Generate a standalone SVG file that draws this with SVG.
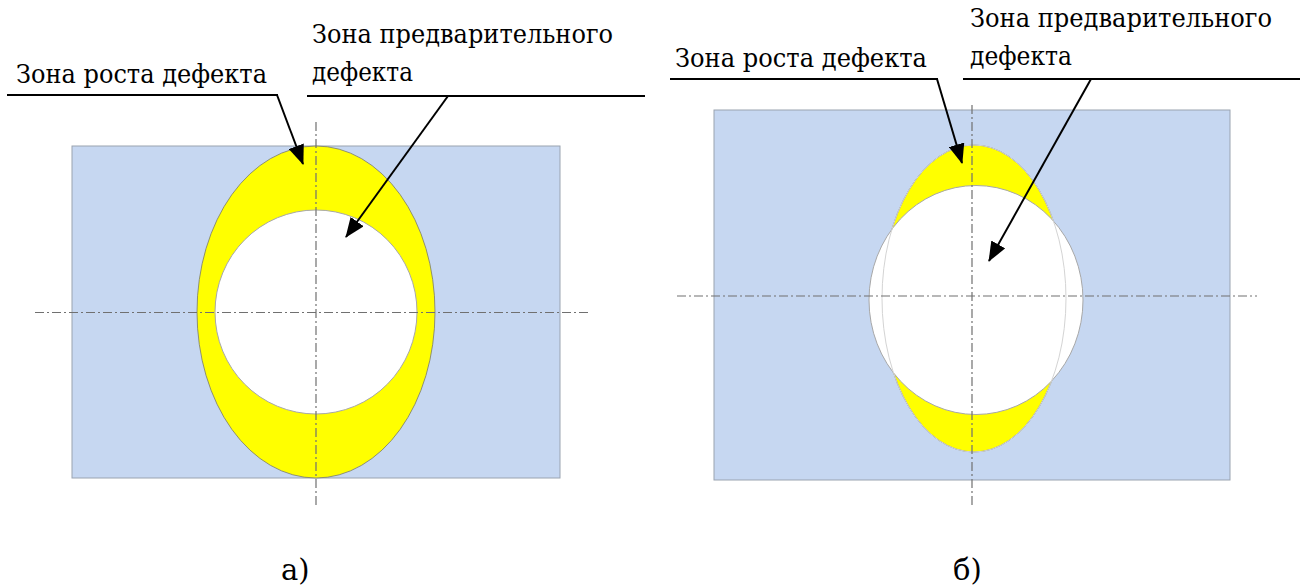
<svg xmlns="http://www.w3.org/2000/svg" width="1309" height="588" viewBox="0 0 1309 588">
<style>
.plate{fill:#c6d7f1;stroke:#9aa3b0;stroke-width:1}
.grow{fill:#ffff00;stroke:#7a7a6a;stroke-width:0.8}
.pre{fill:#ffffff;stroke:#a8a8a8;stroke-width:1}
.ghost{fill:none;stroke:#d4d4d4;stroke-width:1}
.axis{stroke:#707070;stroke-width:1.2;stroke-dasharray:9 3 2 3;fill:none}
.lead{stroke:#000;stroke-width:2;fill:none}
.arr{stroke:#000;stroke-width:2;fill:none;marker-end:url(#ah)}
text{font-family:'DejaVu Serif','Liberation Serif',serif;fill:#000}
.lbl{font-size:26px}
.cap{font-size:29px}
</style>
<defs>
<marker id="ah" viewBox="0 0 20 16" refX="19" refY="8" markerWidth="20" markerHeight="16" markerUnits="userSpaceOnUse" orient="auto">
<path d="M0,0 L20,8 L0,16 Z" fill="#000"/>
</marker>
</defs>
<g id="panel-a">
<rect class="plate" x="72" y="146" width="488" height="332"/>
<ellipse class="grow" cx="316" cy="312" rx="119" ry="166"/>
<ellipse class="pre" cx="316" cy="312" rx="101" ry="102"/>
<line class="axis" x1="316" y1="122" x2="316" y2="508"/>
<line class="axis" x1="35" y1="312.5" x2="591" y2="312.5"/>
</g>
<g id="panel-b">
<rect class="plate" x="714" y="110" width="516" height="370"/>
<ellipse class="grow" cx="974" cy="298.5" rx="92" ry="153.5"/>
<ellipse class="pre" cx="976" cy="300" rx="107" ry="114.5"/>
<ellipse class="ghost" cx="974" cy="298.5" rx="92" ry="153.5"/>
<line class="axis" x1="972" y1="105" x2="972" y2="508"/>
<line class="axis" x1="677" y1="296" x2="1257" y2="296"/>
</g>
<g id="label-a-growth">
<text class="lbl" x="16" y="83" textLength="251" lengthAdjust="spacingAndGlyphs">Зона роста дефекта</text>
</g>
<g id="label-a-pre">
<text class="lbl" x="312" y="43" textLength="301" lengthAdjust="spacingAndGlyphs">Зона предварительного</text>
<text class="lbl" x="312" y="81" textLength="101" lengthAdjust="spacingAndGlyphs">дефекта</text>
</g>
<g id="label-b-growth">
<text class="lbl" x="675" y="67" textLength="252" lengthAdjust="spacingAndGlyphs">Зона роста дефекта</text>
</g>
<g id="label-b-pre">
<text class="lbl" x="970" y="27" textLength="302" lengthAdjust="spacingAndGlyphs">Зона предварительного</text>
<text class="lbl" x="970" y="65" textLength="102" lengthAdjust="spacingAndGlyphs">дефекта</text>
</g>
<g id="captions">
<text class="cap" x="281" y="580">а)</text>
<text class="cap" x="953" y="580">б)</text>
</g>
<g id="connectors">
<line class="lead" x1="7" y1="95" x2="278" y2="95"/>
<line class="arr" x1="277" y1="95" x2="303" y2="164"/>
<line class="lead" x1="307" y1="96" x2="645" y2="96"/>
<line class="arr" x1="448" y1="96" x2="346" y2="237"/>
<line class="lead" x1="670" y1="79" x2="938" y2="79"/>
<line class="arr" x1="937" y1="79" x2="962" y2="163"/>
<line class="lead" x1="963" y1="79" x2="1300" y2="79"/>
<line class="arr" x1="1091" y1="79" x2="989" y2="261"/>
</g>
</svg>
